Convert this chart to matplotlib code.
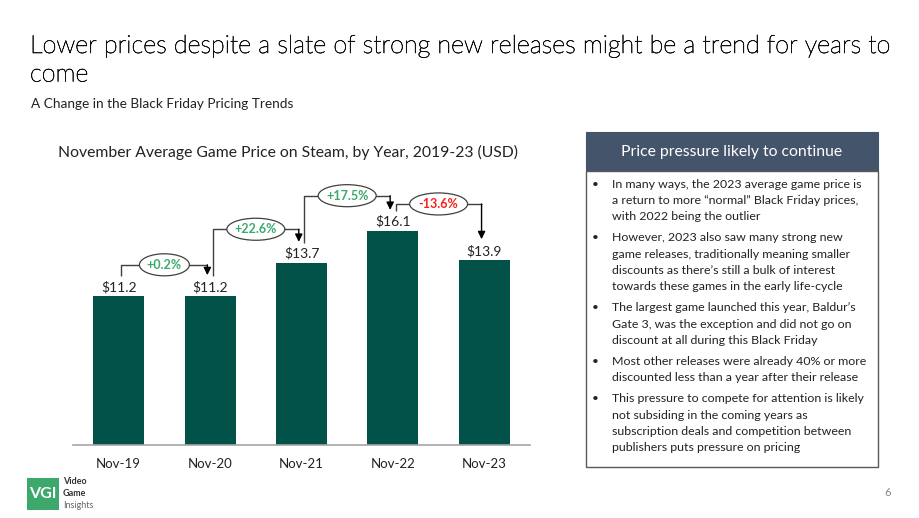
import matplotlib
matplotlib.use("Agg")
import matplotlib.pyplot as plt
import matplotlib.patheffects as pe
from matplotlib.patches import Ellipse, Rectangle

plt.rcParams['font.family'] = ['Lato', 'DejaVu Sans']

# ---- data ----
categories = ["Nov-19", "Nov-20", "Nov-21", "Nov-22", "Nov-23"]
prices = [11.2, 11.2, 13.7, 16.1, 13.9]
changes = ["+0.2%", "+22.6%", "+17.5%", "-13.6%"]
value_labels = ["$11.2", "$11.2", "$13.7", "$16.1", "$13.9"]

title_lines = ["Lower prices despite a slate of strong new releases might be a trend for years to",
               "come"]
subtitle = "A Change in the Black Friday Pricing Trends"
chart_title = "November Average Game Price on Steam, by Year, 2019-23 (USD)"
panel_title = "Price pressure likely to continue"
bullets = [
    ["In many ways, the 2023 average game price is",
     "a return to more \u201cnormal\u201d Black Friday prices,",
     "with 2022 being the outlier"],
    ["However, 2023 also saw many strong new",
     "game releases, traditionally meaning smaller",
     "discounts as there\u2019s still a bulk of interest",
     "towards these games in the early life-cycle"],
    ["The largest game launched this year, Baldur\u2019s",
     "Gate 3, was the exception and did not go on",
     "discount at all during this Black Friday"],
    ["Most other releases were already 40% or more",
     "discounted less than a year after their release"],
    ["This pressure to compete for attention is likely",
     "not subsiding in the coming years as",
     "subscription deals and competition between",
     "publishers puts pressure on pricing"],
]

# ---- style ----
W, H = 920, 518
BAR = "#03524A"
GREEN = "#3BAA6E"
RED = "#F5221B"
LINE = "#404040"
bracket_offsets = [2.33, 2.5, 2.62, 2.0]

fig = plt.figure(figsize=(W / 100, H / 100), dpi=100)
fig.patch.set_facecolor("white")


def fx(x):
    return x / W


def fy(y):
    return 1 - y / H


# titles
for k, tl in enumerate(title_lines):
    fig.text(fx(30), fy(46 + 28.5 * k), tl, fontsize=18.1, fontweight="light",
             color="#111111", va="center", ha="left",
             path_effects=[pe.withStroke(linewidth=0.45, foreground="#111111")])
fig.text(fx(31), fy(104), subtitle, fontsize=9.8, color="#222222", va="center", ha="left")
fig.text(fx(288), fy(152), chart_title, fontsize=11.3, color="#222222", va="center", ha="center")

# chart axes
ax = fig.add_axes([fx(73), fy(445), (530 - 73) / W, (445 - 160) / H])
x = list(range(len(categories)))
ax.bar(x, prices, width=0.56, color=BAR)
ax.set_xlim(-0.5, 4.5)
ax.set_ylim(0, 21.4)
ax.set_xticks(x)
ax.set_xticklabels(categories, fontsize=9.5, color="#222222")
ax.tick_params(axis="x", length=0, pad=9)
ax.set_yticks([])
for s in ["top", "left", "right"]:
    ax.spines[s].set_visible(False)
ax.spines["bottom"].set_color("#A6A6A6")
ax.spines["bottom"].set_linewidth(1.2)

for xi, v, lab in zip(x, prices, value_labels):
    ax.text(xi, v + 0.68, lab, ha="center", va="center", fontsize=10, color="#222222")

# change brackets
for i, (ch, off) in enumerate(zip(changes, bracket_offsets)):
    x0 = x[i] + 0.03
    x1 = x[i + 1] - 0.03
    level = max(prices[i], prices[i + 1]) + off
    y0 = prices[i] + 1.5
    y1 = prices[i + 1] + 1.55
    ax.plot([x0, x0, x1, x1], [y0, level, level, level], color=LINE, lw=1.0,
            solid_capstyle="butt", zorder=3)
    ax.annotate("", xy=(x1, y1), xytext=(x1, level),
                arrowprops=dict(arrowstyle="-|>,head_length=0.45,head_width=0.22",
                                color="black", lw=1.0, shrinkA=0, shrinkB=0), zorder=3)
    xm = (x0 + x1) / 2
    wpx = len(ch) * 8 + 10
    ax.add_patch(Ellipse((xm, level), wpx / 91.4, 22 / 13.3, facecolor="white",
                         edgecolor=LINE, lw=0.9, zorder=4))
    col = RED if ch.startswith("-") else GREEN
    ax.text(xm, level, ch, ha="center", va="center", fontsize=9, fontweight="bold",
            color=col, zorder=5)

# right panel
fig.patches.append(Rectangle((fx(586), fy(171)), (878 - 586) / W, (171 - 132) / H,
                             transform=fig.transFigure, facecolor="#44546A",
                             edgecolor="#44546A", lw=0.8))
fig.patches.append(Rectangle((fx(586), fy(467)), (878 - 586) / W, (467 - 171) / H,
                             transform=fig.transFigure, facecolor="white",
                             edgecolor="#595959", lw=1.0))
fig.text(fx(732), fy(152), panel_title, fontsize=11.3, color="white", ha="center", va="center")

y = 184
for para in bullets:
    fig.text(fx(595), fy(y), "\u2022", fontsize=8.5, color="#222222", ha="center", va="center")
    for line in para:
        fig.text(fx(612), fy(y), line, fontsize=8.9, color="#222222", ha="left", va="center")
        y += 16.3
    y += 4.8

# logo
fig.patches.append(Rectangle((fx(27), fy(510)), 32 / W, 32 / H, transform=fig.transFigure,
                             facecolor="#3DA86B", edgecolor="none"))
fig.text(fx(43), fy(494), "VGI", fontsize=11.5, fontweight="bold", color="white",
         ha="center", va="center")
fig.text(fx(63), fy(482), "Video", fontsize=6.5, fontweight="bold", color="#333333", va="center")
fig.text(fx(63), fy(494), "Game", fontsize=6.5, fontweight="bold", color="#333333", va="center")
fig.text(fx(63), fy(505), "Insights", fontsize=6.5, color="#666666", va="center")

fig.text(fx(888), fy(492), "6", fontsize=8, color="#888888", ha="center", va="center")

fig.savefig("out.png", dpi=100, facecolor="white")
